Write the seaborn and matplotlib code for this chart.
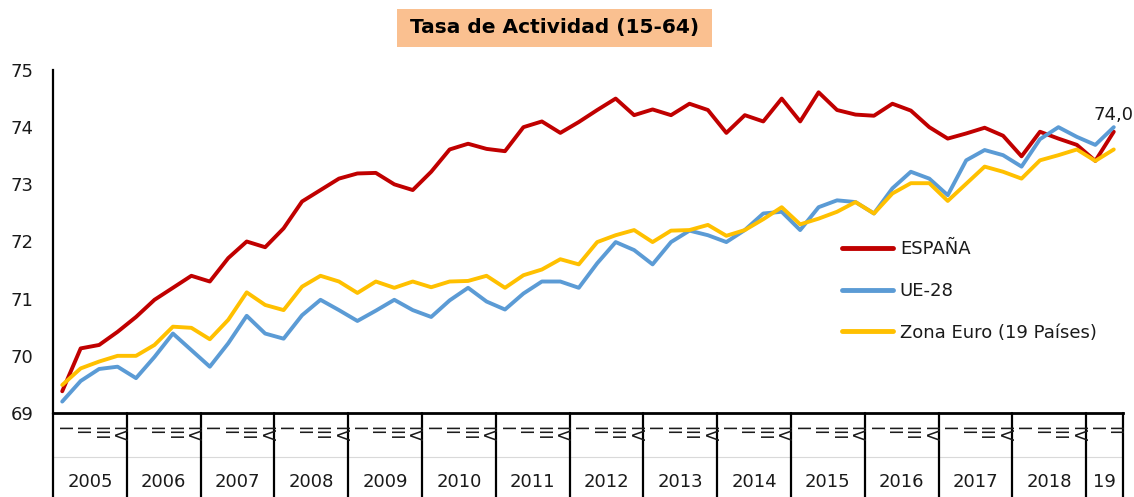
import numpy as np
import pandas as pd
import matplotlib
matplotlib.use("Agg")
import matplotlib.pyplot as plt
import seaborn as sns
from matplotlib.patches import Rectangle
from matplotlib.transforms import blended_transform_factory

# ---------------- data ----------------
years = ["2005", "2006", "2007", "2008", "2009", "2010", "2011", "2012",
         "2013", "2014", "2015", "2016", "2017", "2018", "19"]
quarters_per_year = [4] * 14 + [2]
quarter_labels = ["I", "II", "III", "IV"]

espana = [69.38, 70.13, 70.19, 70.42,
          70.68, 70.98, 71.19, 71.40,
          71.30, 71.71, 72.00, 71.90,
          72.23, 72.70, 72.90, 73.10,
          73.19, 73.20, 73.00, 72.90,
          73.22, 73.61, 73.71, 73.62,
          73.58, 74.00, 74.10, 73.90,
          74.09, 74.30, 74.50, 74.21,
          74.31, 74.21, 74.41, 74.30,
          73.90, 74.21, 74.10, 74.50,
          74.10, 74.61, 74.30, 74.22,
          74.20, 74.41, 74.29, 74.00,
          73.80, 73.89, 73.99, 73.85,
          73.49, 73.92, 73.80, 73.69,
          73.41, 73.92]

ue28 = [69.20, 69.56, 69.77, 69.81,
        69.61, 69.98, 70.39, 70.10,
        69.81, 70.22, 70.70, 70.39,
        70.30, 70.71, 70.98, 70.80,
        70.61, 70.79, 70.98, 70.80,
        70.68, 70.97, 71.19, 70.95,
        70.81, 71.09, 71.30, 71.30,
        71.19, 71.62, 71.99, 71.85,
        71.60, 71.99, 72.19, 72.11,
        71.99, 72.20, 72.49, 72.52,
        72.20, 72.60, 72.72, 72.69,
        72.49, 72.93, 73.22, 73.10,
        72.81, 73.42, 73.60, 73.51,
        73.31, 73.79, 74.00, 73.83,
        73.69, 74.00]

zona_euro = [69.49, 69.78, 69.90, 70.00,
             70.00, 70.19, 70.51, 70.49,
             70.29, 70.63, 71.11, 70.89,
             70.80, 71.21, 71.40, 71.30,
             71.10, 71.30, 71.19, 71.30,
             71.20, 71.30, 71.31, 71.40,
             71.19, 71.41, 71.51, 71.69,
             71.60, 71.99, 72.11, 72.20,
             71.99, 72.19, 72.20, 72.29,
             72.10, 72.20, 72.39, 72.60,
             72.30, 72.40, 72.52, 72.69,
             72.49, 72.84, 73.02, 73.02,
             72.71, 73.01, 73.31, 73.22,
             73.10, 73.42, 73.51, 73.61,
             73.41, 73.61]

series_names = ["ESPAÑA", "UE-28", "Zona Euro (19 Países)"]
series_colors = ["#C00000", "#5B9BD5", "#FFC000"]
y_ticks = [69, 70, 71, 72, 73, 74, 75]
title_text = "Tasa de Actividad (15-64)"
last_value_label = "74,0"

# ---------------- style ----------------
sns.set_theme(style="white")
plt.rcParams["font.family"] = ["DejaVu Sans"]
TXT = "#1a1a1a"

W, H = 1134, 497
fig = plt.figure(figsize=(W / 100, H / 100), dpi=100)
fig.patch.set_facecolor("white")
ax_left, ax_right, ax_top, ax_bot = 53, 1123, 70, 413
ax = fig.add_axes([ax_left / W, (H - ax_bot) / H,
                   (ax_right - ax_left) / W, (ax_bot - ax_top) / H])

n = len(espana)
idx = np.arange(n)
df = pd.DataFrame({
    "q": np.tile(idx, 3),
    "val": espana + ue28 + zona_euro,
    "serie": np.repeat(series_names, n),
})
sns.lineplot(data=df, x="q", y="val", hue="serie", hue_order=series_names,
             palette=dict(zip(series_names, series_colors)),
             linewidth=2.8, ax=ax, sort=False)
for ln in ax.lines:
    ln.set_solid_joinstyle("round")
    ln.set_solid_capstyle("round")

ax.set_xlim(-0.5, n - 0.5)
ax.set_ylim(69, 75)
ax.set_yticks(y_ticks)
ax.set_yticklabels([str(v) for v in y_ticks])
ax.tick_params(axis="y", length=0, pad=14, labelsize=13, labelcolor=TXT)
ax.set_xticks([])
ax.set_xlabel("")
ax.set_ylabel("")
for s in ["top", "right"]:
    ax.spines[s].set_visible(False)
ax.spines["left"].set_linewidth(1.6)
ax.spines["left"].set_color("black")
ax.spines["bottom"].set_linewidth(2.0)
ax.spines["bottom"].set_color("black")

# ---------------- category axis table ----------------
trans = blended_transform_factory(ax.transData, ax.transAxes)
ph = ax_bot - ax_top
y_box_bottom = -(H + 5 - ax_bot) / ph
y_sep = -(457 - ax_bot) / ph
y_q = -(426 - ax_bot) / ph
y_year = -(482 - ax_bot) / ph

ax.plot([-0.5, n - 0.5], [y_sep, y_sep], transform=trans, clip_on=False,
        color="#d9d9d9", lw=0.8)

start = 0
bounds = [-0.5]
for yr, nq in zip(years, quarters_per_year):
    for k in range(nq):
        ax.text(start + k, y_q, quarter_labels[k], transform=trans,
                rotation=270, ha="center", va="top", fontsize=12, color=TXT)
    ax.text(start + (nq - 1) / 2, y_year, yr, transform=trans,
            ha="center", va="center", fontsize=13, color=TXT)
    start += nq
    bounds.append(start - 0.5)

for b in bounds:
    ax.plot([b, b], [0, y_box_bottom], transform=trans, clip_on=False,
            color="black", lw=1.6)

# ---------------- data label ----------------
ax.annotate(last_value_label, xy=(n - 1, ue28[-1]), xytext=(0, 2),
            textcoords="offset points", ha="center", va="bottom",
            fontsize=13, color=TXT)

# ---------------- legend ----------------
handles, labels = ax.get_legend_handles_labels()
leg = ax.legend(handles, labels, loc="upper left",
                bbox_to_anchor=(842 / W, 1 - 240 / H),
                bbox_transform=fig.transFigure, frameon=False, fontsize=13,
                handlelength=2.8, handletextpad=0.4, labelspacing=1.32,
                borderpad=0, borderaxespad=0)
for h in leg.get_lines():
    h.set_linewidth(3.5)
for t in leg.get_texts():
    t.set_color(TXT)

# ---------------- title ----------------
fig.patches.append(Rectangle((397 / W, 1 - 47 / H), 315 / W, 38 / H,
                             transform=fig.transFigure, facecolor="#FAC090",
                             edgecolor="none", zorder=0))
fig.text(554.5 / W, 1 - 28 / H, title_text, ha="center", va="center",
         fontsize=14.5, fontweight="bold", color="black")

fig.savefig("out.png", dpi=100, facecolor="white")
